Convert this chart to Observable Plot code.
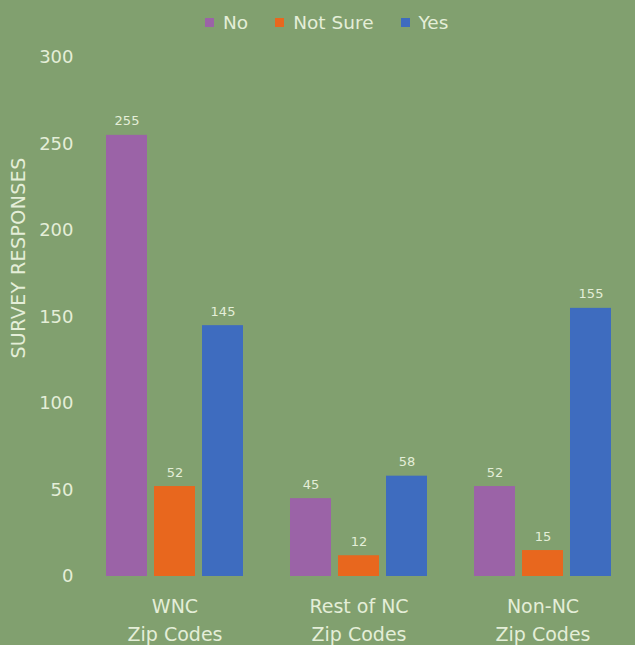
<!DOCTYPE html>
<html>
<head>
<meta charset="utf-8">
<script src="https://cdn.jsdelivr.net/npm/d3@7"></script>
<script src="https://cdn.jsdelivr.net/npm/@observablehq/plot@0.6"></script>
<style>
  html, body { margin: 0; padding: 0; background: #81a06f; }
  #wrap { position: relative; width: 635px; height: 645px; background: #81a06f; font-family: "DejaVu Sans", sans-serif; color: #e4eed8; overflow: hidden; }
  #legend { position: absolute; top: 8px; left: 205px; height: 28px; display: flex; align-items: center; font-size: 18.5px; }
  #legend .item { display: flex; align-items: center; gap: 9px; margin-right: 27px; }
  #legend .sw { width: 9px; height: 9px; display: inline-block; }
  #ylabel { position: absolute; left: 18px; top: 258px; transform: translate(-50%, -50%) rotate(-90deg); font-size: 19px; letter-spacing: 0.4px; white-space: nowrap; }
  #chart { position: absolute; top: 45px; left: 0; }
</style>
</head>
<body>
<div id="wrap">
  <div id="legend"></div>
  <div id="ylabel">SURVEY RESPONSES</div>
  <div id="chart"></div>
</div>
<script>
const groups = ["WNC", "Rest of NC", "Non-NC"];
const groupLabels = ["WNC\nZip Codes", "Rest of NC\nZip Codes", "Non-NC\nZip Codes"];
const responses = ["No", "Not Sure", "Yes"];
const colors = ["#9b63a7", "#e8671e", "#3e6cbf"];
const noValues = [255, 45, 52];
const notSureValues = [52, 12, 15];
const yesValues = [145, 58, 155];
const yTicks = [0, 50, 100, 150, 200, 250, 300];

const seriesValues = [noValues, notSureValues, yesValues];
const data = [];
responses.forEach((r, ri) => groups.forEach((g, gi) => data.push({group: g, response: r, value: seriesValues[ri][gi]})));

// legend
const legend = document.getElementById("legend");
responses.forEach((r, i) => {
  const it = document.createElement("div");
  it.className = "item";
  it.innerHTML = `<span class="sw" style="background:${colors[i]}"></span><span>${r}</span>`;
  legend.appendChild(it);
});

const textColor = "#e4eed8";
const gridColor = "#d3e3c3";
const barW = 41;
const bandW = 137;
const offsets = [0, 48, 96];

const barMarks = responses.flatMap((r, i) => {
  const d = data.filter(x => x.response === r);
  return [
    Plot.barY(d, {x: "group", y: "value", fill: "response", insetLeft: offsets[i], insetRight: bandW - barW - offsets[i]}),
    Plot.text(d, {x: "group", y: "value", text: "value", dx: offsets[i] + barW / 2 - bandW / 2, dy: -10, lineAnchor: "bottom", fill: textColor, fontSize: 13})
  ];
});

const plot = Plot.plot({
  width: 635,
  height: 600,
  marginLeft: 83,
  marginRight: 0,
  marginTop: 12,
  marginBottom: 69,
  style: {background: "transparent", fontFamily: "'DejaVu Sans', sans-serif", color: textColor},
  x: {domain: groups, range: [83, 635], paddingInner: 0.255, paddingOuter: 0.1275, axis: null},
  y: {domain: [0, 300], axis: null},
  color: {domain: responses, range: colors},
  marks: [
    Plot.ruleY(yTicks, {stroke: gridColor, strokeWidth: 1.5, x1: 82, x2: 635}),
    ...barMarks,
    Plot.axisY({ticks: yTicks, tickSize: 0, tickPadding: 10, fontSize: 18, label: null, fill: textColor}),
    Plot.axisX({tickSize: 0, tickPadding: 17, fontSize: 19, lineHeight: 1.47, label: null, fill: textColor, tickFormat: g => groupLabels[groups.indexOf(g)]})
  ]
});
document.getElementById("chart").appendChild(plot);
</script>
</body>
</html>
